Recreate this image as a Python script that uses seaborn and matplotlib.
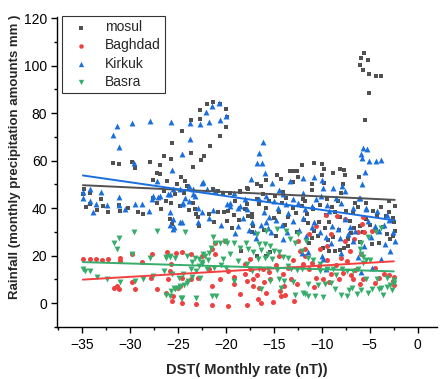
import matplotlib
matplotlib.use("Agg")
import matplotlib.pyplot as plt
from matplotlib.ticker import MultipleLocator
import numpy as np
import pandas as pd
import seaborn as sns

# Monthly DST (nT) against monthly rainfall (mm) for four Iraqi stations
MOSUL = [
    (-34.9, 45.9), (-34.2, 46.6), (-34.2, 41.7), (-34.8, 48.0), (-33.0, 44.0), (-33.4, 39.3),
    (-32.3, 38.2), (-31.0, 38.9), (-31.1, 41.3), (-28.6, 37.5), (-27.6, 44.5), (-27.2, 42.4),
    (-26.2, 43.1), (-31.8, 59.0), (-31.1, 58.5), (-29.8, 59.4), (-29.5, 57.0), (-27.9, 59.6),
    (-26.9, 58.0), (-27.2, 54.7), (-27.6, 52.0), (-26.9, 54.3), (-26.4, 62.0), (-25.6, 67.4),
    (-24.6, 72.4), (-23.6, 77.2), (-22.7, 77.5), (-22.7, 81.4), (-22.0, 83.8), (-21.3, 84.8),
    (-20.6, 83.8), (-20.0, 81.7), (-19.9, 78.4), (-20.0, 74.3), (-20.6, 70.2), (-21.7, 66.3),
    (-22.3, 62.0), (-22.6, 60.2), (-23.4, 57.5), (-23.6, 63.2), (-25.7, 60.9), (-24.7, 53.3),
    (-24.3, 51.5), (-25.8, 35.4), (-25.6, 33.3), (-23.8, 39.3), (-23.1, 37.5), (-22.8, 32.6),
    (-21.8, 37.5), (-20.8, 38.2), (-22.9, 36.1), (-26.1, 51.5), (-25.1, 50.1), (-24.1, 49.4),
    (-24.4, 46.6), (-23.4, 42.4), (-23.2, 39.8), (-21.3, 48.0), (-20.8, 47.3), (-20.3, 46.6),
    (-19.6, 46.6), (-18.5, 47.3), (-17.7, 48.3), (-19.8, 39.0), (-17.8, 41.7), (-17.3, 37.5),
    (-25.3, 45.9), (-25.7, 42.4), (-24.8, 41.0), (-26.4, 47.3), (-20.2, 38.4), (-19.9, 34.7),
    (-19.1, 37.0), (-17.7, 36.8), (-17.3, 36.1), (-17.2, 32.6), (-17.3, 29.8), (-16.5, 41.7),
    (-18.4, 21.8), (-16.8, 20.0), (-15.8, 20.0), (-15.4, 21.4), (-18.5, 46.9), (-16.1, 45.9),
    (-14.9, 45.2), (-13.7, 44.5), (-12.1, 41.0), (-11.5, 37.5), (-11.4, 33.6), (-10.8, 30.5),
    (-10.4, 28.4), (-11.3, 25.5), (-9.9, 23.2), (-9.2, 22.0), (-8.6, 21.9), (-8.1, 22.4),
    (-7.7, 23.2), (-7.3, 23.9), (-6.0, 25.8), (-5.7, 29.8), (-4.8, 24.8), (-4.0, 25.5),
    (-2.9, 27.0), (-2.4, 30.5), (-2.6, 28.4), (-4.3, 36.8), (-3.3, 36.8), (-5.4, 35.4),
    (-8.6, 38.2), (-8.1, 36.1), (-7.1, 34.7), (-10.3, 34.0), (-9.2, 34.0), (-5.4, 42.4),
    (-7.3, 27.0), (-12.1, 58.1), (-10.8, 59.2), (-10.0, 58.5),
    (-9.8, 56.7), (-8.8, 54.7), (-8.1, 56.4), (-7.7, 56.1), (-7.6, 53.9), (-6.1, 53.2),
    (-10.0, 53.9), (-11.0, 50.1), (-13.3, 55.6), (-12.9, 55.7), (-12.6, 55.6), (-12.5, 53.2),
    (-13.0, 51.1), (-14.7, 53.9), (-14.3, 52.2), (-15.8, 52.0), (-16.8, 50.1), (-16.3, 49.4),
    (-17.8, 48.7), (-9.8, 50.5), (-7.8, 50.4), (-14.0, 47.0), (-12.0, 44.0), (-11.0, 47.5),
    (-9.5, 44.0), (-8.0, 46.5), (-6.5, 42.0), (-3.0, 43.0), (-15.5, 43.0), (-13.0, 40.0),
    (-14.5, 38.5), (-15.0, 36.0), (-5.6, 105.3), (-5.9, 103.2), (-5.2, 102.5), (-6.0, 100.3),
    (-5.7, 98.1), (-5.1, 96.7), (-4.4, 95.7), (-3.8, 95.7), (-5.1, 88.4), (-5.5, 77.2),
    (-6.1, 53.3), (-19.0, 43.0), (-18.0, 39.5), (-16.8, 44.0), (-15.8, 40.0), (-14.2, 42.0),
    (-13.5, 36.5), (-12.7, 38.0), (-11.8, 43.0), (-10.9, 39.5), (-10.2, 41.5), (-9.6, 37.0),
    (-8.9, 40.5), (-8.3, 43.0), (-7.5, 39.0), (-6.8, 38.0), (-6.2, 40.5), (-4.7, 39.0),
    (-3.8, 40.5), (-3.0, 38.5), (-2.5, 34.0), (-2.4, 41.0), (-34.6, 40.5), (-32.8, 41.0),
    (-30.2, 40.0), (-29.2, 38.5), (-26.8, 39.5), (-21.2, 34.0), (-19.4, 31.5), (-18.6, 35.0),
    (-16.0, 31.0), (-14.8, 28.5), (-13.8, 33.0), (-12.6, 30.0), (-11.9, 35.0), (-9.7, 31.5),
    (-8.8, 28.0), (-6.6, 31.5), (-5.0, 33.0), (-3.6, 32.0), (-2.8, 34.5), (-8.2, 31.0),
    (-7.0, 29.5), (-6.0, 32.5), (-4.4, 31.0), (-3.2, 29.0), (-2.6, 36.0), (-9.4, 26.5),
    (-11.0, 27.5),
]

BAGHDAD = [
    (-34.9, 18.5), (-34.2, 18.5), (-33.5, 18.5), (-32.9, 18.2), (-32.3, 18.8), (-31.0, 17.8),
    (-31.0, 19.2), (-29.8, 20.6), (-28.7, 17.4), (-27.7, 20.9), (-26.1, 21.6), (-25.2, 21.0),
    (-24.6, 21.6), (-23.6, 20.6), (-22.5, 20.0), (-21.1, 20.6), (-21.4, 23.0), (-29.8, 9.0),
    (-29.5, 6.2), (-31.7, 6.6), (-31.3, 7.3), (-31.1, 5.9), (-27.8, 10.8), (-27.2, 6.2),
    (-25.8, 13.6), (-26.0, 10.1), (-25.5, 3.1), (-25.6, 1.0), (-24.6, 0.3), (-24.8, 7.3),
    (-23.6, 10.1), (-23.1, -0.4), (-21.4, 7.3), (-21.4, -0.8), (-25.7, 16.4), (-24.6, 10.8),
    (-22.9, 10.8), (-21.8, 14.3), (-20.6, 10.1), (-19.8, 13.6), (-19.1, 11.2), (-18.0, 12.2),
    (-17.8, 9.4), (-26.2, 4.5), (-25.0, 6.6), (-19.8, -1.1), (-17.8, -0.8), (-20.1, 26.2),
    (-21.1, 25.5), (-18.0, 16.4), (-17.5, 18.5), (-16.3, -0.1), (-15.1, 0.7), (-14.3, 3.1),
    (-14.4, 5.2), (-13.9, 7.3), (-19.1, 8.0), (-17.2, 7.3), (-16.5, 6.6), (-15.4, 10.1),
    (-17.2, 10.1), (-16.1, 14.3), (-13.2, 10.1), (-12.6, 8.0), (-11.3, 14.3), (-10.6, 10.8),
    (-9.9, 10.1), (-9.0, 12.2), (-7.8, 12.9), (-6.8, 10.1), (-5.7, 10.1), (-4.0, 10.8),
    (-2.6, 9.4), (-12.3, 22.0), (-12.5, 26.2), (-11.8, 20.0), (-10.2, 22.8), (-9.5, 24.1),
    (-9.0, 29.0), (-8.4, 36.8), (-7.6, 35.4), (-7.6, 26.2), (-7.1, 22.0), (-6.6, 27.0),
    (-5.6, 29.8), (-4.8, 30.5), (-5.8, 33.3), (-6.2, 30.2), (-5.9, 20.6), (-5.7, 36.1),
    (-7.4, 17.8), (-10.6, 32.6), (-11.3, 29.0), (-11.8, 22.8), (-9.6, 37.0),
    (-17.5, 14.5), (-16.8, 12.0), (-16.0, 9.0), (-15.5, 13.0), (-14.8, 16.0), (-14.0, 12.5),
    (-13.5, 15.0), (-13.0, 18.0), (-12.0, 16.5), (-11.0, 17.0), (-10.3, 15.5), (-9.5, 18.0),
    (-8.5, 16.0), (-8.0, 19.0), (-6.5, 14.0), (-4.5, 15.0), (-3.5, 12.5), (-2.5, 11.0),
    (-14.5, 20.0), (-13.8, 3.5), (-15.8, 4.5), (-16.7, 1.8), (-18.5, 4.0), (-12.9, 1.0),
    (-2.5, 7.8), (-3.0, 12.0), (-4.5, 8.5), (-6.0, 8.0), (-7.0, 12.0), (-8.2, 10.0),
    (-9.3, 9.0), (-10.8, 7.0),
]

KIRKUK = [
    (-34.9, 46.9), (-34.9, 44.5), (-34.2, 43.1), (-33.5, 41.7), (-32.4, 41.3), (-31.1, 44.9),
    (-31.1, 41.3), (-29.5, 41.7), (-28.7, 41.7), (-27.1, 44.9), (-26.0, 45.9), (-27.6, 45.2),
    (-34.2, 48.0), (-33.0, 46.9), (-27.7, 43.8), (-27.2, 51.5), (-26.9, 45.2), (-25.8, 38.2),
    (-25.5, 35.4), (-25.8, 32.8), (-25.4, 32.3), (-24.6, 34.0), (-22.9, 34.0), (-22.5, 38.2),
    (-21.8, 35.7), (-24.5, 42.1), (-23.8, 43.1), (-22.9, 40.3), (-23.4, 45.9), (-24.8, 34.0),
    (-25.5, 31.2), (-31.8, 71.0), (-31.3, 74.4), (-29.8, 76.0), (-27.9, 76.6), (-25.7, 76.2),
    (-31.1, 65.6), (-29.6, 59.0), (-25.6, 56.0), (-24.6, 62.7), (-23.7, 69.3), (-23.7, 75.8),
    (-22.7, 75.4), (-21.8, 76.3), (-22.1, 80.4), (-21.4, 83.0), (-20.7, 84.2), (-20.0, 78.9),
    (-20.6, 77.0), (-17.4, 52.4), (-22.4, 51.0), (-25.5, 48.0), (-24.8, 48.0), (-24.3, 44.5),
    (-23.8, 49.4), (-23.4, 48.0), (-23.2, 45.2), (-22.5, 50.8), (-22.0, 48.0), (-21.1, 47.3),
    (-19.6, 42.4), (-18.5, 41.0), (-17.8, 39.8), (-18.0, 44.0), (-19.1, 46.6), (-21.3, 39.3),
    (-24.6, 41.7), (-25.8, 45.9), (-19.6, 41.0), (-18.7, 40.3), (-18.7, 32.6), (-17.3, 34.0),
    (-17.0, 29.8), (-15.8, 34.0), (-15.3, 29.8), (-14.6, 40.3), (-13.7, 41.7), (-11.8, 39.6),
    (-10.8, 34.0), (-10.2, 29.8), (-10.0, 20.0), (-9.9, 18.5), (-9.2, 38.9), (-8.9, 32.6),
    (-8.3, 31.2), (-7.6, 35.4), (-7.1, 31.9), (-6.8, 40.3), (-5.4, 40.3), (-5.2, 34.7),
    (-4.5, 32.6), (-3.8, 18.5), (-2.9, 22.0), (-2.6, 29.8), (-2.4, 26.2), (-7.6, 47.3),
    (-19.9, 41.7), (-15.8, 45.2), (-12.0, 46.6), (-10.6, 43.8), (-8.5, 44.5), (-6.0, 44.5),
    (-11.4, 21.7), (-16.1, 67.7), (-16.5, 63.4), (-16.2, 59.2), (-16.8, 58.9), (-15.9, 54.7),
    (-15.2, 50.5), (-13.3, 51.5), (-12.0, 52.9), (-10.8, 53.2), (-10.0, 51.8), (-9.9, 48.7),
    (-8.8, 48.4), (-7.9, 49.4), (-10.1, 45.2), (-5.7, 65.3), (-5.3, 65.0), (-5.9, 62.7),
    (-5.8, 61.0), (-5.1, 59.7), (-4.4, 59.7), (-3.8, 60.4), (-5.5, 55.3), (-5.8, 50.1),
    (-6.1, 44.5), (-4.2, 38.9), (-3.2, 37.2), (-5.4, 39.6), (-16.5, 44.0), (-15.0, 43.0),
    (-14.0, 46.0), (-13.0, 44.0), (-12.5, 42.0), (-14.5, 47.5), (-13.5, 38.0), (-16.0, 38.5),
    (-15.5, 36.5), (-12.0, 36.0), (-11.0, 41.0), (-9.5, 41.5), (-8.0, 42.0), (-3.5, 33.0),
    (-18.2, 36.0), (-17.6, 31.0), (-16.9, 27.5), (-16.3, 33.0), (-15.6, 31.5), (-14.8, 35.0),
    (-14.2, 33.0), (-13.6, 30.0), (-13.0, 34.5), (-12.4, 31.0), (-11.7, 28.5), (-11.0, 32.0),
    (-9.6, 28.0), (-9.0, 25.5), (-8.1, 27.5), (-7.3, 29.0), (-6.5, 30.5), (-4.9, 28.0),
    (-4.0, 30.5), (-3.0, 35.0), (-5.9, 13.2), (-4.8, 14.7), (-9.6, 14.5), (-12.1, 21.3),
    (-6.8, 26.0), (-5.6, 24.0), (-3.4, 25.0), (-33.8, 38.5), (-30.5, 39.5), (-28.0, 38.8),
    (-20.5, 33.0), (-19.0, 29.5), (-14.0, 27.0), (-8.0, 21.0), (-6.2, 19.5),
]

BASRA = [
    (-34.9, 14.3), (-34.7, 13.6), (-34.2, 13.6), (-33.4, 11.2), (-32.4, 10.1), (-31.7, 25.5),
    (-31.3, 22.7), (-31.1, 27.6), (-31.0, 9.0), (-29.8, 20.6), (-29.6, 29.8), (-29.5, 9.5),
    (-28.6, 10.1), (-27.9, 19.2), (-27.2, 30.5), (-27.6, 11.5), (-26.2, 19.2), (-25.8, 19.5),
    (-25.3, 19.2), (-25.3, 5.9), (-25.8, 3.1), (-26.2, 3.4), (-24.7, 2.4), (-24.8, 7.3),
    (-24.3, 29.8), (-24.1, 8.7), (-23.5, 11.0), (-22.7, 10.8), (-22.4, 20.6), (-21.4, 3.1),
    (-21.3, 28.0), (-26.4, 13.6), (-25.6, 12.5), (-23.1, 2.4), (-23.2, 19.2), (-22.8, 18.5),
    (-23.5, 17.5), (-22.5, 17.2), (-22.2, 20.0), (-21.9, 18.0), (-21.8, 21.3), (-21.5, 23.4),
    (-21.1, 25.5), (-20.6, 25.5), (-20.1, 26.2), (-19.9, 25.5), (-19.1, 25.5), (-18.5, 23.4),
    (-17.7, 22.7), (-17.9, 25.5), (-17.2, 21.5), (-20.3, 18.8), (-19.6, 20.6), (-18.7, 17.8),
    (-17.8, 16.5), (-17.3, 13.5), (-23.6, 14.3), (-23.1, 13.6), (-24.5, 12.2), (-24.9, 10.8),
    (-23.9, 9.4), (-24.4, 7.6), (-25.0, 6.6), (-25.4, 6.6), (-25.7, 5.2), (-24.6, 2.4),
    (-21.0, 3.1), (-19.1, 9.4), (-24.1, 20.0), (-25.8, 20.0), (-26.2, 19.5), (-22.5, 16.4),
    (-22.8, 15.5), (-20.5, 16.0), (-21.2, 15.0), (-22.0, 14.5), (-20.0, 14.8), (-15.8, 30.5),
    (-14.7, 31.2), (-13.7, 30.5), (-16.8, 29.0), (-16.5, 24.8), (-15.9, 24.8), (-15.4, 24.0),
    (-16.3, 22.5), (-15.6, 20.6), (-15.0, 22.0), (-14.5, 21.5), (-14.0, 19.5), (-15.9, 19.2),
    (-16.6, 18.8), (-15.2, 18.8), (-13.5, 19.2), (-12.8, 25.5), (-12.5, 29.0), (-13.3, 27.0),
    (-11.6, 26.2), (-12.1, 22.0), (-11.4, 19.2), (-10.9, 18.0), (-10.2, 16.4), (-13.5, 15.7),
    (-13.2, 14.5), (-12.6, 14.0), (-12.1, 14.5), (-14.7, 14.0), (-15.6, 14.5), (-16.5, 14.5),
    (-10.2, 13.5), (-9.5, 14.5), (-8.8, 14.3), (-8.5, 12.0), (-7.9, 14.5), (-15.4, 9.4),
    (-14.5, 10.0), (-13.9, 9.4), (-13.0, 9.0), (-11.4, 8.0), (-10.4, 7.5), (-9.7, 8.0),
    (-9.0, 8.5), (-16.3, 5.9), (-14.3, 6.5), (-11.8, 3.8), (-10.7, 3.1), (-9.9, 2.8),
    (-8.6, 5.9), (-11.4, 3.1), (-4.4, 30.2), (-3.8, 31.6), (-5.2, 28.0), (-5.9, 25.5),
    (-6.0, 22.7), (-5.9, 20.6), (-5.7, 19.5), (-5.4, 18.1), (-5.0, 18.1), (-5.7, 17.0),
    (-6.2, 14.3), (-6.7, 13.6), (-7.4, 13.6), (-5.4, 10.1), (-4.2, 10.4), (-3.2, 10.5),
    (-2.5, 9.8), (-2.5, 8.5), (-2.9, 7.6), (-3.8, 6.6), (-4.8, 5.9), (-5.9, 5.6),
    (-7.2, 5.6), (-7.4, 3.1), (-6.9, 6.6), (-12.8, 3.5), (-12.0, 4.5), (-8.0, 3.5),
    (-6.3, 4.0), (-5.2, 4.5), (-4.0, 6.0), (-3.2, 6.8), (-3.6, 3.5), (-2.7, 5.5),
]

STATIONS = ["mosul", "Baghdad", "Kirkuk", "Basra"]
SERIES = [MOSUL, BAGHDAD, KIRKUK, BASRA]
COLORS = ["#515151", "#F14040", "#1A6FDF", "#37AD6B"]
MARKERS = ["s", "o", "^", "v"]
SIZES = [11, 13, 18, 18]

X_TICKS = [-35, -30, -25, -20, -15, -10, -5, 0]
Y_TICKS = [0, 20, 40, 60, 80, 100, 120]

sns.set_style("ticks")
plt.rcParams["font.family"] = ["Liberation Sans", "DejaVu Sans"]

fig = plt.figure(figsize=(4.4, 3.79), dpi=100)
ax = fig.add_axes([0.1295, 0.1372, 0.8636, 0.818])

frames = []
for name, pts in zip(STATIONS, SERIES):
    df = pd.DataFrame(pts, columns=["dst", "rain"])
    df["station"] = name
    frames.append(df)
data = pd.concat(frames, ignore_index=True)

for name, color, marker, size in zip(STATIONS, COLORS, MARKERS, SIZES):
    sub = data[data["station"] == name]
    sns.scatterplot(data=sub, x="dst", y="rain", color=color, marker=marker,
                    s=size, linewidth=0, label=name, ax=ax, zorder=2)

for name, color in zip(STATIONS, COLORS):
    sub = data[data["station"] == name]
    sns.regplot(data=sub, x="dst", y="rain", scatter=False, ci=None, truncate=True,
                color=color, line_kws={"linewidth": 1.4, "zorder": 3}, ax=ax)

ax.set_xlim(-37.6, 2.0)
ax.set_ylim(-10, 120.5)
ax.set_xticks(X_TICKS)
ax.set_yticks(Y_TICKS)
ax.xaxis.set_minor_locator(MultipleLocator(2.5))
ax.yaxis.set_minor_locator(MultipleLocator(10))
ax.tick_params(which="major", direction="out", length=4, width=1, labelsize=10,
               color="black", labelcolor="black")
ax.tick_params(which="minor", direction="out", length=2.2, width=1, color="black")
ax.tick_params(axis="x", pad=4)
ax.tick_params(axis="y", pad=3)
for side in ["top", "right"]:
    ax.spines[side].set_visible(False)
for side in ["left", "bottom"]:
    ax.spines[side].set_linewidth(1.0)
    ax.spines[side].set_color("black")

ax.set_xlabel("DST( Monthly rate (nT))", fontsize=10.5, fontweight="bold", labelpad=8)
ax.set_ylabel("Rainfall (monthly precipitation amounts mm )", fontsize=9.5,
              fontweight="bold")
ax.yaxis.set_label_coords(-0.095, 0.55)

leg = ax.legend(loc="upper left", bbox_to_anchor=(0.013, 1.003), borderaxespad=0,
                frameon=True, fancybox=False, edgecolor="black", fontsize=10,
                markerscale=0.9, handletextpad=0.6, labelspacing=0.3,
                borderpad=0.3, handlelength=2.2)
leg.get_frame().set_linewidth(0.8)

fig.savefig("out.png", dpi=100)
